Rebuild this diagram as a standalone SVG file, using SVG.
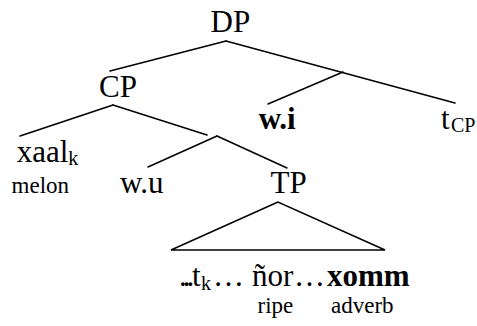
<svg xmlns="http://www.w3.org/2000/svg" width="477" height="326" viewBox="0 0 477 326">
<style>
text{font-family:"Liberation Serif","Times New Roman","DejaVu Serif",serif;fill:#000}
.m{font-size:31px}
.s{font-size:23px}
.sub{font-size:20px}
.b{font-weight:bold}
.e{stroke:#000;stroke-width:1.5;fill:none;stroke-linecap:round}
</style>
<rect width="477" height="326" fill="#fff"/>
<g id="connectors" class="e">
<line x1="226" y1="41" x2="110" y2="71"/>
<line x1="226" y1="41" x2="455" y2="103"/>
<line x1="343" y1="72" x2="268" y2="104"/>
<line x1="113" y1="105" x2="20" y2="136"/>
<line x1="113" y1="105" x2="207" y2="135"/>
<line x1="217" y1="136" x2="148" y2="167"/>
<line x1="217" y1="136" x2="287" y2="168"/>
<polygon points="278,202 171,250 385,250" stroke-linejoin="miter"/>
</g>
<g id="DP"><text class="m" x="210.5" y="32">DP</text></g>
<g id="CP"><text class="m" x="99" y="97">CP</text></g>
<g id="wi"><text class="m b" x="258.7" y="129">w.i</text></g>
<g id="tCP"><text class="m" x="441" y="129">t<tspan class="sub" font-size="19" x="451" dy="3">CP</tspan></text></g>
<g id="xaal"><text class="m" x="16.7" y="162">xaal<tspan class="sub" dy="3">k</tspan></text>
<text class="s" x="11.6" y="193">melon</text></g>
<g id="wu"><text class="m" x="120" y="193">w.u</text></g>
<g id="TP"><text class="m" x="270.5" y="193">TP</text></g>
<g id="TPcontent"><text class="m" y="286"><tspan x="179" letter-spacing="-4">...</tspan><tspan x="192">t</tspan><tspan class="sub" x="201" dy="4">k</tspan><tspan x="213" dy="-4">…</tspan><tspan x="252">ñor</tspan><tspan x="294">…</tspan><tspan class="b" x="327">xomm</tspan></text>
<text class="s" x="257.5" y="313">ripe</text>
<text class="s" x="331" y="313">adverb</text></g>
</svg>
